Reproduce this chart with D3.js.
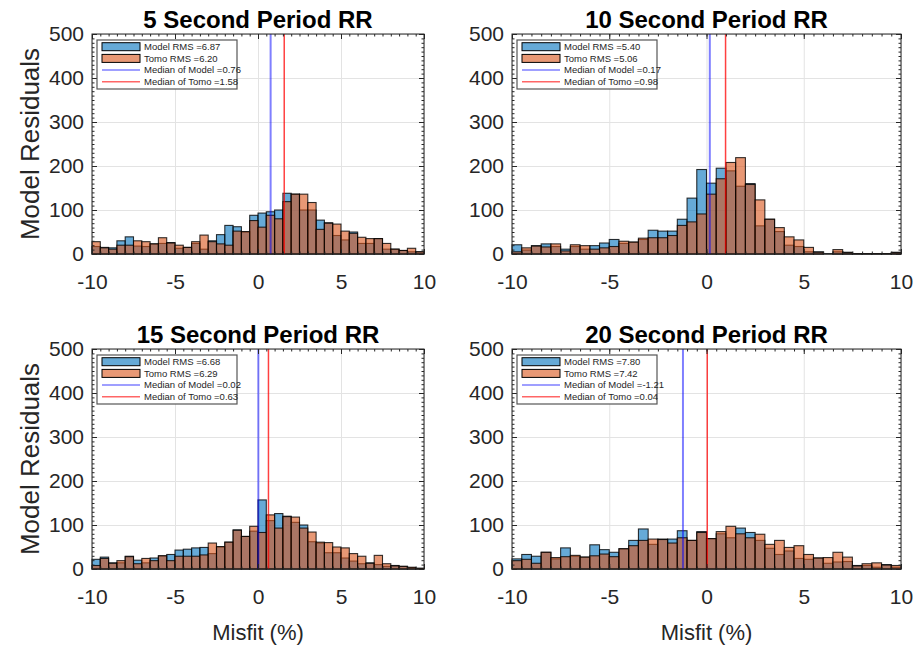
<!DOCTYPE html>
<html>
<head>
<meta charset="utf-8">
<script src="https://cdnjs.cloudflare.com/ajax/libs/d3/7.8.5/d3.min.js"></script>
<style>
body { margin: 0; background: #fff; }
text { font-family: "Liberation Sans", Arial, sans-serif; fill: #262626; }
.grid line { stroke: #e3e3e3; stroke-width: 1; }
.grid .domain { display: none; }
.axis line { stroke: #262626; }
.axis .domain { display: none; }
</style>
</head>
<body>
<script>
// histogram bin edges (% misfit), 0.5 wide
var binEdges = [-10, -9.5, -9, -8.5, -8, -7.5, -7, -6.5, -6, -5.5,
                -5, -4.5, -4, -3.5, -3, -2.5, -2, -1.5, -1, -0.5,
                0, 0.5, 1, 1.5, 2, 2.5, 3, 3.5, 4, 4.5,
                5, 5.5, 6, 6.5, 7, 7.5, 8, 8.5, 9, 9.5, 10];

var titles = ["5 Second Period RR", "10 Second Period RR", "15 Second Period RR", "20 Second Period RR"];

// counts per bin
var model5 = [17, 15, 14, 30, 39, 18, 17, 23, 24, 26, 13, 15, 24, 11, 30, 44, 65, 62, 50, 88,
              93, 96, 100, 138, 136, 100, 100, 77, 71, 42, 32, 50, 24, 24, 35, 11, 11, 8, 5, 5];
var tomo5  = [28, 14, 11, 20, 20, 30, 28, 23, 37, 25, 20, 15, 28, 43, 28, 23, 20, 52, 51, 76,
              61, 88, 80, 119, 136, 136, 117, 56, 70, 68, 52, 47, 38, 35, 35, 24, 11, 8, 13, 5];

var model10 = [21, 9, 19, 23, 17, 11, 17, 11, 19, 25, 33, 24, 27, 33, 54, 52, 52, 79, 127, 192,
               161, 195, 189, 154, 160, 64, 79, 51, 20, 17, 5, 5, 1, 5, 4, 1, 1, 1, 1, 4];
var tomo10  = [5, 14, 18, 16, 23, 7, 21, 19, 11, 14, 17, 29, 27, 36, 37, 37, 42, 65, 73, 91,
               136, 171, 208, 219, 158, 123, 79, 60, 39, 32, 15, 4, 0, 10, 3, 1, 1, 1, 1, 3];

var model15 = [22, 27, 14, 14, 29, 20, 14, 25, 30, 33, 43, 45, 48, 49, 35, 50, 61, 89, 74, 86,
               157, 110, 126, 120, 106, 100, 62, 59, 37, 37, 25, 18, 12, 14, 10, 6, 8, 6, 3, 1];
var tomo15  = [8, 24, 13, 19, 28, 12, 24, 19, 30, 19, 29, 29, 29, 32, 59, 51, 61, 88, 74, 97,
               83, 123, 93, 119, 118, 93, 84, 61, 60, 50, 48, 35, 29, 13, 31, 12, 7, 6, 4, 2];

var model20 = [23, 33, 29, 38, 23, 48, 29, 27, 55, 44, 38, 46, 65, 91, 56, 68, 68, 87, 65, 85,
               69, 80, 71, 93, 83, 65, 47, 33, 41, 24, 22, 25, 13, 16, 17, 8, 8, 4, 10, 4];
var tomo20  = [19, 22, 13, 38, 26, 28, 31, 27, 30, 34, 28, 46, 53, 65, 68, 67, 59, 71, 65, 83,
               69, 85, 97, 80, 71, 79, 56, 65, 49, 53, 33, 25, 26, 38, 27, 7, 12, 14, 9, 8];

var rmsModel = ["6.87", "5.40", "6.68", "7.80"];
var rmsTomo = ["6.20", "5.06", "6.29", "7.42"];
var medianModel = [0.76, 0.17, 0.02, -1.21];
var medianTomo = [1.58, 0.98, 0.63, 0.04];

var xTicks = [-10, -5, 0, 5, 10];
var yTicks = [0, 100, 200, 300, 400, 500];

var modelSeries = [model5, model10, model15, model20];
var tomoSeries = [tomo5, tomo10, tomo15, tomo20];

var svgWidth = 920;
var svgHeight = 650;
var plotHeight = 220;

var frames = [
    {left: 92, top: 34, width: 332},
    {left: 512, top: 34, width: 389},
    {left: 92, top: 349, width: 332},
    {left: 512, top: 349, width: 389}
];

var blue = "#0072BD", orange = "#D95319";

var svg = d3.select("body")
    .append("svg")
    .attr("width", svgWidth)
    .attr("height", svgHeight);

frames.forEach(function(f, i) {
    var chartGroup = svg.append("g")
        .attr("transform", `translate(${f.left}, ${f.top})`);

    var xScale = d3.scaleLinear().domain([-10, 10]).range([0, f.width]);
    var yScale = d3.scaleLinear().domain([0, 500]).range([plotHeight, 0]);

    // grid
    chartGroup.append("g")
        .attr("class", "grid")
        .attr("transform", `translate(0, ${plotHeight})`)
        .call(d3.axisBottom(xScale).tickValues(xTicks).tickSize(-plotHeight).tickFormat(""));
    chartGroup.append("g")
        .attr("class", "grid")
        .call(d3.axisLeft(yScale).tickValues(yTicks).tickSize(-f.width).tickFormat(""));

    // histograms: model first, tomo over it
    [[modelSeries[i], blue], [tomoSeries[i], orange]].forEach(function(s) {
        chartGroup.append("g").selectAll("rect")
            .data(s[0])
            .enter()
            .append("rect")
            .attr("x", (d, j) => xScale(binEdges[j]))
            .attr("width", (d, j) => xScale(binEdges[j + 1]) - xScale(binEdges[j]))
            .attr("y", d => yScale(d))
            .attr("height", d => plotHeight - yScale(d))
            .attr("fill", s[1])
            .attr("fill-opacity", 0.6)
            .attr("stroke", "#000")
            .attr("stroke-opacity", 0.8)
            .attr("stroke-width", 1.1);
    });

    // median lines
    chartGroup.append("line")
        .attr("x1", xScale(medianModel[i])).attr("x2", xScale(medianModel[i]))
        .attr("y1", 0).attr("y2", plotHeight)
        .attr("stroke", "#0000ff").attr("stroke-opacity", 0.5).attr("stroke-width", 2);
    chartGroup.append("line")
        .attr("x1", xScale(medianTomo[i])).attr("x2", xScale(medianTomo[i]))
        .attr("y1", 0).attr("y2", plotHeight)
        .attr("stroke", "#ff0000").attr("stroke-opacity", 0.75).attr("stroke-width", 1.5);

    // axes with inward ticks on all sides
    var bottomAxis = d3.axisBottom(xScale).tickValues(xTicks).tickSize(-5).tickPadding(20).tickFormat(d => String(d));
    var leftAxis = d3.axisLeft(yScale).tickValues(yTicks).tickSize(-5).tickPadding(8).tickFormat(d => String(d));

    var gx = chartGroup.append("g")
        .attr("class", "axis")
        .attr("transform", `translate(0, ${plotHeight})`)
        .call(bottomAxis);
    gx.selectAll("text").style("font-size", "21px");

    var gy = chartGroup.append("g")
        .attr("class", "axis")
        .call(leftAxis);
    gy.selectAll("text").style("font-size", "21px");

    chartGroup.append("g").attr("class", "axis")
        .call(d3.axisTop(xScale).tickValues(xTicks).tickSize(-5).tickFormat(""));
    chartGroup.append("g").attr("class", "axis")
        .attr("transform", `translate(${f.width}, 0)`)
        .call(d3.axisRight(yScale).tickValues(yTicks).tickSize(-5).tickFormat(""));

    // minor ticks
    var xMinor = binEdges;
    var yMinor = d3.range(0, 501, 10);
    chartGroup.append("g").attr("class", "axis")
        .attr("transform", `translate(0, ${plotHeight})`)
        .call(d3.axisBottom(xScale).tickValues(xMinor).tickSize(-2.5).tickFormat(""));
    chartGroup.append("g").attr("class", "axis")
        .call(d3.axisTop(xScale).tickValues(xMinor).tickSize(-2.5).tickFormat(""));
    chartGroup.append("g").attr("class", "axis")
        .call(d3.axisLeft(yScale).tickValues(yMinor).tickSize(-2.5).tickFormat(""));
    chartGroup.append("g").attr("class", "axis")
        .attr("transform", `translate(${f.width}, 0)`)
        .call(d3.axisRight(yScale).tickValues(yMinor).tickSize(-2.5).tickFormat(""));

    // frame
    chartGroup.append("rect")
        .attr("width", f.width)
        .attr("height", plotHeight)
        .attr("fill", "none")
        .attr("stroke", "#262626")
        .attr("stroke-width", 1);

    // legend
    var legend = chartGroup.append("g")
        .attr("transform", "translate(5, 6)");
    legend.append("rect")
        .attr("width", 140)
        .attr("height", 49)
        .attr("fill", "#fff")
        .attr("stroke", "#555")
        .attr("stroke-width", 1.2);
    var entries = [
        {label: "Model RMS =" + rmsModel[i], kind: "patch", color: blue, op: 0.6},
        {label: "Tomo RMS =" + rmsTomo[i], kind: "patch", color: orange, op: 0.6},
        {label: "Median of Model =" + medianModel[i].toFixed(2), kind: "line", color: "#0000ff", op: 0.5},
        {label: "Median of Tomo =" + medianTomo[i].toFixed(2), kind: "line", color: "#ff0000", op: 0.6}
    ];
    entries.forEach(function(e, k) {
        var cy = 6.7 + k * 11.7;
        if (e.kind === "patch") {
            legend.append("rect")
                .attr("x", 5).attr("y", cy - 4)
                .attr("width", 38).attr("height", 8)
                .attr("fill", e.color).attr("fill-opacity", e.op)
                .attr("stroke", "#000").attr("stroke-width", 1);
        } else {
            legend.append("line")
                .attr("x1", 5).attr("x2", 43)
                .attr("y1", cy).attr("y2", cy)
                .attr("stroke", e.color).attr("stroke-opacity", e.op).attr("stroke-width", 1.5);
        }
        legend.append("text")
            .attr("x", 47)
            .attr("y", cy)
            .attr("dy", "0.35em")
            .style("font-size", "9.5px")
            .text(e.label);
    });

    // title
    chartGroup.append("text")
        .attr("x", f.width / 2)
        .attr("y", -6)
        .attr("text-anchor", "middle")
        .style("font-size", "24px")
        .style("font-weight", "bold")
        .style("fill", "#000")
        .text(titles[i]);

    if (i % 2 === 0) {
        chartGroup.append("text")
            .attr("transform", "rotate(-90)")
            .attr("x", -plotHeight / 2)
            .attr("y", -62)
            .attr("dy", "0.35em")
            .attr("text-anchor", "middle")
            .style("font-size", "26px")
            .text("Model Residuals");
    }
    if (i >= 2) {
        chartGroup.append("text")
            .attr("x", f.width / 2)
            .attr("y", plotHeight + 71)
            .attr("text-anchor", "middle")
            .style("font-size", "22px")
            .text("Misfit (%)");
    }
});
</script>
</body>
</html>
